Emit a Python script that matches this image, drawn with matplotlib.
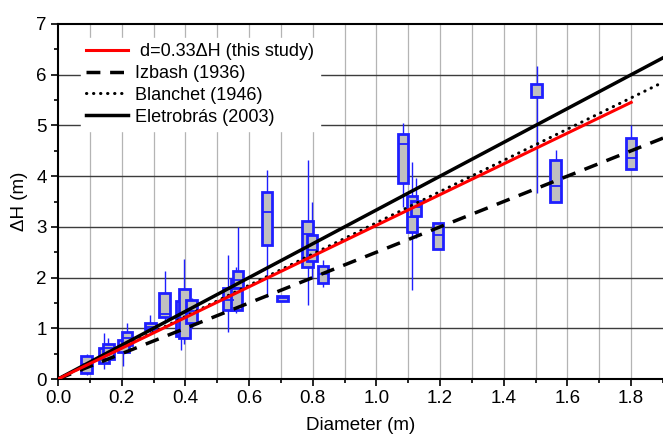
import numpy as np
import matplotlib
matplotlib.use("Agg")
import matplotlib.pyplot as plt
from matplotlib.ticker import MultipleLocator

plt.rcParams["font.family"] = ["Liberation Sans", "DejaVu Sans"]

# --- box data ---
box_x = [0.09, 0.145, 0.158, 0.205, 0.217, 0.29, 0.335, 0.387, 0.397, 0.42,
         0.535, 0.56, 0.565, 0.657, 0.705, 0.784, 0.797, 0.832,
         1.083, 1.112, 1.125, 1.193, 1.503, 1.563, 1.80]
box_q1 = [0.12, 0.31, 0.40, 0.53, 0.67, 0.98, 1.22, 0.85, 0.81, 1.10,
          1.36, 1.36, 1.80, 2.64, 1.54, 2.20, 2.33, 1.90,
          3.87, 2.90, 3.21, 2.56, 5.57, 3.49, 4.14]
box_med = [0.30, 0.40, 0.62, 0.65, 0.80, 1.03, 1.28, 1.20, 1.30, 1.35,
           1.55, 1.80, 1.95, 3.29, 1.59, 2.85, 2.54, 2.07,
           4.63, 3.20, 3.40, 2.84, 5.57, 3.81, 4.36]
box_q3 = [0.45, 0.61, 0.69, 0.77, 0.92, 1.10, 1.70, 1.54, 1.78, 1.55,
          1.80, 1.97, 2.12, 3.69, 1.64, 3.12, 2.84, 2.23,
          4.83, 3.60, 3.51, 3.08, 5.82, 4.32, 4.75]
whisk_lo = [0.08, 0.20, 0.35, 0.25, 0.60, 0.90, 1.10, 0.57, 0.70, 1.00,
            0.93, 1.30, 1.70, 1.62, 1.54, 1.46, 2.00, 1.81,
            3.39, 1.75, 2.78, 2.56, 3.67, 3.49, 4.13]
whisk_hi = [0.50, 0.90, 0.81, 0.85, 1.10, 1.26, 2.13, 1.70, 2.37, 1.60,
            2.45, 2.20, 3.00, 4.12, 1.64, 4.32, 3.50, 2.35,
            5.05, 4.28, 3.96, 3.08, 6.17, 4.52, 5.00]

# --- relations dH = k * d ---
k_study = 1 / 0.33
k_izbash = 2.5
k_blanchet = 3.08
k_eletro = 1 / 0.30

d_study = np.array([0.0, 1.8])
d_full = np.array([0.0, 1.9])

fig = plt.figure(figsize=(6.63, 4.37), dpi=100)
ax = fig.add_axes([0.0875, 0.1327, 0.9125, 0.8124])

box_blue = "#1f1fff"
# whiskers
ax.vlines(box_x, whisk_lo, whisk_hi, color=box_blue, lw=1.0, zorder=3)
# boxes
heights = np.array(box_q3) - np.array(box_q1)
ax.bar(box_x, heights, bottom=box_q1, width=0.033, color="#c0c0c0",
       edgecolor=box_blue, linewidth=2, zorder=4)
ax.hlines(box_med, np.array(box_x) - 0.0165, np.array(box_x) + 0.0165,
          color=box_blue, lw=1.3, zorder=5)

# lines
ax.plot(d_study, k_study * d_study, color="#ff0000", lw=2.2, zorder=7,
        label=" d=0.33\u0394H (this study)")
ax.plot(d_full, k_izbash * d_full, color="black", lw=2.5, dashes=(4, 2.8),
        zorder=6, label="Izbash (1936)")
ax.plot(d_full, k_blanchet * d_full, color="black", lw=2.2,
        linestyle=(0, (0.1, 2.2)), dash_capstyle="round", zorder=6,
        label="Blanchet (1946)")
ax.plot(d_full, k_eletro * d_full, color="black", lw=2.5, zorder=6,
        label="Eletrobr\u00e1s (2003)")

ax.set_xlim(0, 1.9)
ax.set_ylim(0, 7)
ax.xaxis.set_major_locator(MultipleLocator(0.2))
ax.xaxis.set_minor_locator(MultipleLocator(0.1))
ax.yaxis.set_major_locator(MultipleLocator(1))
ax.yaxis.set_minor_locator(MultipleLocator(0.5))
ax.set_xticklabels([f"{v:.1f}" for v in ax.get_xticks()])

# grid
for v in np.arange(0.1, 1.9, 0.1):
    ax.axvline(v, color="#b4b4b4", lw=0.9, zorder=1)
for v in range(1, 7):
    ax.axhline(v, color="#3c3c3c", lw=1.0, zorder=1)

ax.tick_params(which="major", direction="out", length=5, width=1.2,
               labelsize=13.5, pad=3)
ax.tick_params(which="minor", direction="out", length=3, width=1.2)
for s in ax.spines.values():
    s.set_linewidth(1.5)
ax.spines["right"].set_visible(False)

ax.set_xlabel("Diameter (m)", fontsize=13.5, labelpad=7)
ax.set_ylabel("\u0394H (m)", fontsize=13.5, labelpad=6)

leg = ax.legend(loc="upper left", bbox_to_anchor=(0.0225, 0.987), fontsize=13,
                frameon=True, framealpha=1, edgecolor="white",
                handlelength=2.33, handletextpad=0.4, labelspacing=0.27,
                borderpad=0.3, fancybox=False)
leg.set_zorder(10)

fig.savefig("out.png", dpi=100)
